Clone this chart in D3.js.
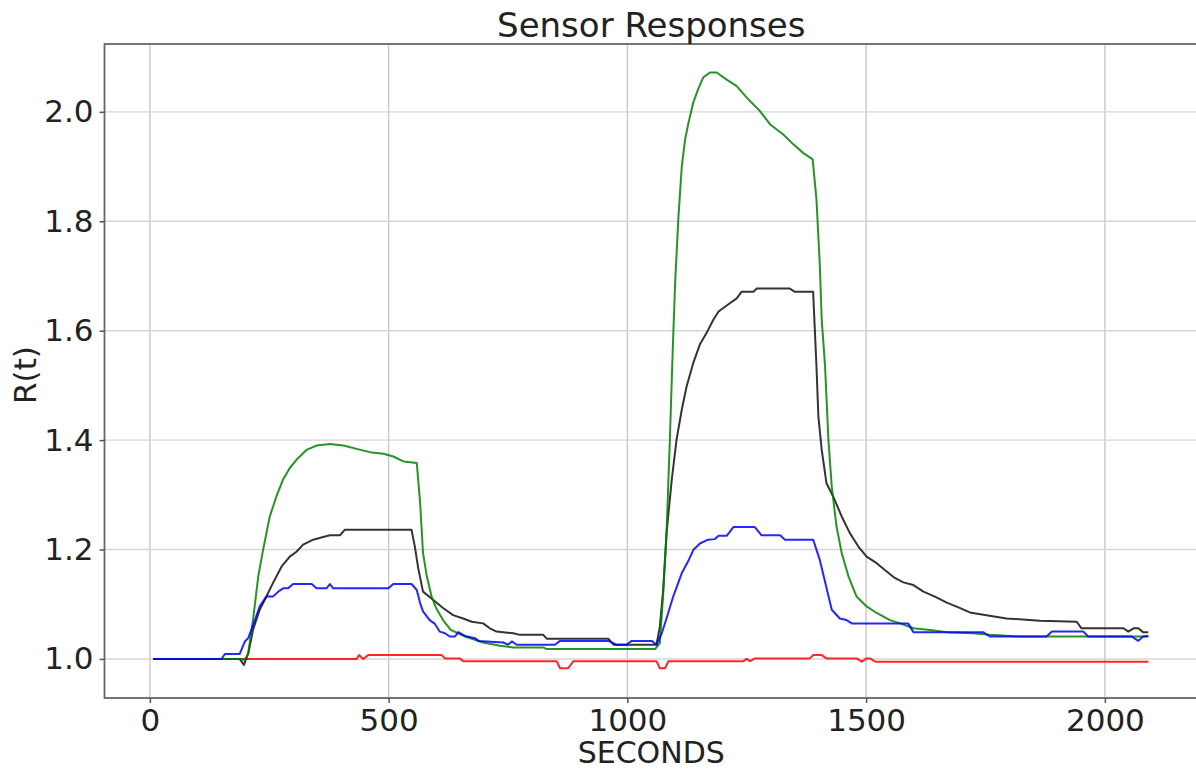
<!DOCTYPE html>
<html>
<head>
<meta charset="utf-8">
<script src="https://cdn.jsdelivr.net/npm/d3@7"></script>
<style>
  html, body { margin: 0; padding: 0; background: #fff; }
  svg { display: block; font-family: "DejaVu Sans", sans-serif; }
</style>
</head>
<body>
<svg id="chart" width="1196" height="771"></svg>
<script>
// Sensor response curves, R(t) against time in seconds
const redT = [7, 433, 438, 447, 457, 611, 618, 649, 656, 852, 859, 876, 887, 1061, 1068, 1079, 1086, 1243, 1250, 1257, 1267, 1382, 1389, 1407, 1417, 1480, 1491, 1501, 1508, 1519, 2091];
const redV = [1.0, 1.0, 1.007, 1.0, 1.007, 1.007, 1.001, 1.001, 0.996, 0.996, 0.983, 0.983, 0.996, 0.996, 0.983, 0.983, 0.996, 0.996, 1.0, 0.996, 1.001, 1.001, 1.007, 1.007, 1.001, 1.001, 0.995, 1.001, 1.001, 0.995, 0.995];

const blackT = [7, 188, 197, 206, 216, 230, 244, 258, 276, 293, 307, 321, 342, 363, 377, 398, 408, 548, 555, 562, 572, 593, 614, 635, 656, 674, 698, 712, 726, 761, 775, 824, 831, 960, 971, 1061, 1068, 1075, 1082, 1093, 1103, 1114, 1124, 1138, 1152, 1166, 1180, 1191, 1208, 1229, 1239, 1264, 1271, 1340, 1351, 1389, 1396, 1400, 1407, 1417, 1431, 1449, 1466, 1484, 1501, 1522, 1543, 1560, 1578, 1599, 1620, 1644, 1669, 1697, 1717, 1752, 1794, 1864, 1941, 1951, 2039, 2049, 2060, 2070, 2080, 2091];
const blackV = [1.0, 1.0, 0.989, 1.010, 1.053, 1.090, 1.114, 1.139, 1.169, 1.187, 1.196, 1.209, 1.218, 1.223, 1.226, 1.226, 1.236, 1.236, 1.205, 1.166, 1.123, 1.108, 1.093, 1.080, 1.074, 1.068, 1.065, 1.056, 1.050, 1.047, 1.044, 1.044, 1.037, 1.037, 1.026, 1.026, 1.059, 1.126, 1.230, 1.328, 1.401, 1.456, 1.498, 1.541, 1.575, 1.596, 1.620, 1.635, 1.646, 1.659, 1.671, 1.671, 1.677, 1.677, 1.671, 1.671, 1.535, 1.443, 1.382, 1.321, 1.297, 1.260, 1.230, 1.205, 1.187, 1.175, 1.160, 1.148, 1.140, 1.135, 1.123, 1.114, 1.103, 1.093, 1.085, 1.080, 1.074, 1.070, 1.068, 1.056, 1.056, 1.050, 1.056, 1.056, 1.049, 1.049];

const greenT = [7, 188, 199, 206, 216, 227, 237, 251, 265, 279, 293, 307, 328, 349, 377, 405, 433, 461, 489, 510, 531, 559, 566, 572, 580, 590, 600, 614, 630, 660, 698, 733, 761, 824, 831, 1058, 1068, 1075, 1082, 1089, 1095, 1100, 1107, 1114, 1121, 1128, 1138, 1148, 1159, 1173, 1187, 1208, 1229, 1250, 1278, 1299, 1326, 1347, 1368, 1388, 1396, 1403, 1407, 1414, 1421, 1428, 1438, 1449, 1463, 1480, 1501, 1522, 1550, 1571, 1599, 1634, 1669, 1724, 1759, 1822, 2091];
const greenV = [1.0, 1.0, 0.998, 1.010, 1.071, 1.151, 1.199, 1.260, 1.297, 1.328, 1.349, 1.364, 1.382, 1.390, 1.393, 1.390, 1.384, 1.378, 1.375, 1.370, 1.361, 1.358, 1.285, 1.194, 1.151, 1.114, 1.092, 1.071, 1.053, 1.041, 1.030, 1.024, 1.021, 1.021, 1.018, 1.018, 1.029, 1.120, 1.230, 1.401, 1.565, 1.687, 1.809, 1.901, 1.950, 1.980, 2.017, 2.041, 2.063, 2.072, 2.072, 2.059, 2.047, 2.026, 2.001, 1.977, 1.959, 1.941, 1.925, 1.913, 1.840, 1.720, 1.620, 1.535, 1.401, 1.315, 1.242, 1.193, 1.151, 1.114, 1.096, 1.084, 1.071, 1.065, 1.056, 1.053, 1.049, 1.047, 1.044, 1.041, 1.041];

const blueT = [7, 150, 157, 188, 199, 206, 220, 230, 244, 258, 269, 279, 289, 300, 339, 349, 370, 377, 384, 499, 510, 548, 559, 566, 572, 586, 597, 607, 618, 628, 639, 646, 660, 681, 688, 740, 750, 758, 768, 848, 859, 960, 977, 998, 1009, 1051, 1061, 1072, 1082, 1096, 1114, 1127, 1138, 1152, 1169, 1183, 1191, 1208, 1222, 1267, 1281, 1320, 1330, 1389, 1403, 1428, 1445, 1459, 1470, 1588, 1599, 1745, 1759, 1878, 1889, 1955, 1965, 2056, 2070, 2080, 2091];
const blueV = [1.0, 1.0, 1.009, 1.009, 1.032, 1.038, 1.071, 1.096, 1.114, 1.114, 1.123, 1.129, 1.129, 1.137, 1.137, 1.129, 1.129, 1.137, 1.129, 1.129, 1.137, 1.137, 1.126, 1.102, 1.087, 1.071, 1.064, 1.050, 1.047, 1.041, 1.041, 1.049, 1.042, 1.038, 1.033, 1.030, 1.026, 1.032, 1.026, 1.026, 1.033, 1.033, 1.026, 1.026, 1.033, 1.033, 1.026, 1.047, 1.074, 1.114, 1.157, 1.178, 1.199, 1.211, 1.218, 1.219, 1.225, 1.225, 1.241, 1.241, 1.226, 1.226, 1.218, 1.218, 1.181, 1.090, 1.074, 1.071, 1.065, 1.065, 1.049, 1.049, 1.041, 1.041, 1.050, 1.050, 1.041, 1.041, 1.033, 1.041, 1.042];

const xTicks = [0, 500, 1000, 1500, 2000];
const yTicks = [1.0, 1.2, 1.4, 1.6, 1.8, 2.0];

const series = [
  { name: "red",   color: "#ff0000", t: redT,   v: redV },
  { name: "black", color: "#111111", t: blackT, v: blackV },
  { name: "green", color: "#008000", t: greenT, v: greenV },
  { name: "blue",  color: "#0000ff", t: blueT,  v: blueV }
];

const svg = d3.select("#chart");
const plot = { left: 104.5, right: 1198, top: 44, bottom: 698 };

const x = d3.scaleLinear().domain([-95, 2195]).range([plot.left, plot.right]);
const y = d3.scaleLinear().domain([0.9286, 2.124]).range([plot.bottom, plot.top]);

// grid
const grid = svg.append("g").attr("class", "grid");
grid.selectAll("line.v").data(xTicks).join("line")
  .attr("x1", d => x(d)).attr("x2", d => x(d))
  .attr("y1", plot.top).attr("y2", plot.bottom)
  .attr("stroke", "#c8c8c8").attr("stroke-width", 1.4);
grid.selectAll("line.h").data(yTicks).join("line")
  .attr("x1", plot.left).attr("x2", plot.right)
  .attr("y1", d => y(d)).attr("y2", d => y(d))
  .attr("stroke", "#d6d6d6").attr("stroke-width", 1.4);

// series lines
const line = d3.line().x(d => x(d[0])).y(d => y(d[1]));
svg.append("g").selectAll("path").data(series).join("path")
  .attr("d", s => line(s.t.map((t, i) => [t, s.v[i]])))
  .attr("fill", "none")
  .attr("stroke", s => s.color)
  .attr("stroke-width", 2)
  .attr("stroke-linejoin", "round")
  .attr("opacity", 0.85);

// frame
svg.append("rect")
  .attr("x", plot.left).attr("y", plot.top)
  .attr("width", plot.right - plot.left).attr("height", plot.bottom - plot.top)
  .attr("fill", "none").attr("stroke", "#666").attr("stroke-width", 1.8);

// axes
const xAxis = d3.axisBottom(x).tickValues(xTicks).tickSize(5).tickPadding(6).tickFormat(d3.format("d"));
const yAxis = d3.axisLeft(y).tickValues(yTicks).tickSize(5).tickPadding(6).tickFormat(d3.format(".1f"));

const gx = svg.append("g").attr("transform", `translate(0,${plot.bottom})`).call(xAxis);
const gy = svg.append("g").attr("transform", `translate(${plot.left},0)`).call(yAxis);
[gx, gy].forEach(g => {
  g.select(".domain").remove();
  g.selectAll(".tick line").attr("stroke", "#555").attr("stroke-width", 1.5);
  g.selectAll(".tick text").attr("fill", "#222").style("font-size", "31px")
    .style("font-family", "'DejaVu Sans', sans-serif");
});
gx.selectAll(".tick text").attr("dy", "0.7em");

// titles
svg.append("text")
  .attr("x", (plot.left + plot.right) / 2).attr("y", 37)
  .attr("text-anchor", "middle").attr("fill", "#222")
  .style("font-size", "34px").text("Sensor Responses");

svg.append("text")
  .attr("x", (plot.left + plot.right) / 2).attr("y", 763)
  .attr("text-anchor", "middle").attr("fill", "#222")
  .style("font-size", "30px").text("SECONDS");

svg.append("text")
  .attr("transform", `translate(36,${(plot.top + plot.bottom) / 2 + 4}) rotate(-90)`)
  .attr("text-anchor", "middle").attr("fill", "#222")
  .style("font-size", "31px").text("R(t)");
</script>
</body>
</html>
